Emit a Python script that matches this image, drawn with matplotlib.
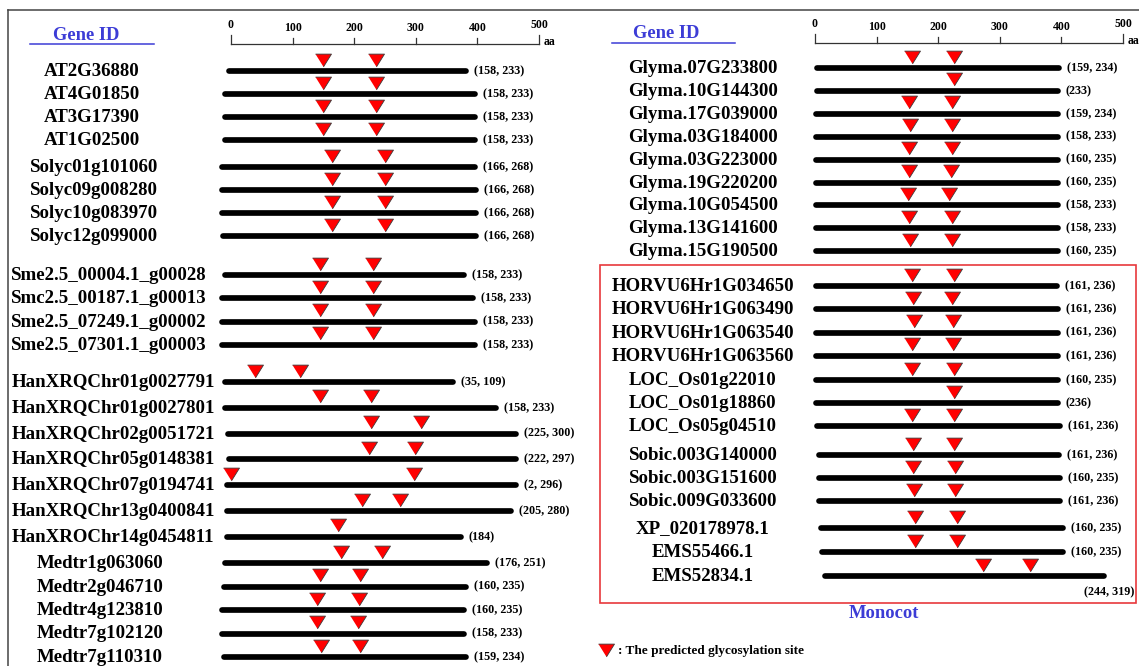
import matplotlib.pyplot as plt
from matplotlib.lines import Line2D
from matplotlib.patches import Rectangle

plt.rcParams['font.family'] = ['Liberation Serif', 'DejaVu Serif']

# ---- data: left panel (dicots) ----
left_ids = ['AT2G36880', 'AT4G01850', 'AT3G17390', 'AT1G02500',
            'Solyc01g101060', 'Solyc09g008280', 'Solyc10g083970', 'Solyc12g099000',
            'Sme2.5_00004.1_g00028', 'Smc2.5_00187.1_g00013', 'Sme2.5_07249.1_g00002', 'Sme2.5_07301.1_g00003',
            'HanXRQChr01g0027791', 'HanXRQChr01g0027801', 'HanXRQChr02g0051721', 'HanXRQChr05g0148381',
            'HanXRQChr07g0194741', 'HanXRQChr13g0400841', 'HanXROChr14g0454811',
            'Medtr1g063060', 'Medtr2g046710', 'Medtr4g123810', 'Medtr7g102120', 'Medtr7g110310']
# labelled glycosylation sites (aa)
left_sites = [[158, 233]] * 4 + [[166, 268]] * 4 + [[158, 233]] * 4 + \
             [[35, 109], [158, 233], [225, 300], [222, 297], [2, 296], [205, 280], [184]] + \
             [[176, 251], [160, 235], [160, 235], [158, 233], [159, 234]]
# where the triangles sit on the drawing (aa, read against the scale)
left_marks = [[150, 236]] * 4 + [[164, 250]] * 4 + [[145, 231]] * 4 + \
             [[39, 112], [144, 227], [227, 309], [224, 299], [0, 297], [212, 274], [173]] + \
             [[179, 245], [144, 209], [140, 208], [140, 206], [146, 210]]
left_start = [-4, -10, -10, -10, -15, -15, -15, -13, -9, -15, -15, -15,
              -9, -9, -5, -4, -6, -6, -6, -9, -11, -15, -15, -11]
left_end = [381, 396, 396, 396, 396, 398, 398, 398, 378, 393, 396, 396,
            361, 430, 463, 463, 463, 454, 373, 416, 381, 378, 378, 381]
left_groups = [4, 4, 4, 7, 5]

# ---- data: right panel (soybean + monocots) ----
right_ids = ['Glyma.07G233800', 'Glyma.10G144300', 'Glyma.17G039000', 'Glyma.03G184000',
             'Glyma.03G223000', 'Glyma.19G220200', 'Glyma.10G054500', 'Glyma.13G141600',
             'Glyma.15G190500',
             'HORVU6Hr1G034650', 'HORVU6Hr1G063490', 'HORVU6Hr1G063540', 'HORVU6Hr1G063560',
             'LOC_Os01g22010', 'LOC_Os01g18860', 'LOC_Os05g04510',
             'Sobic.003G140000', 'Sobic.003G151600', 'Sobic.009G033600',
             'XP_020178978.1', 'EMS55466.1', 'EMS52834.1']
right_sites = [[159, 234], [233], [159, 234], [158, 233], [160, 235], [160, 235], [158, 233],
               [158, 233], [160, 235],
               [161, 236], [161, 236], [161, 236], [161, 236],
               [160, 235], [236], [161, 236],
               [161, 236], [160, 235], [161, 236],
               [160, 235], [160, 235], [244, 319]]
right_marks = [[157, 226], [226], [153, 222], [154, 222], [153, 222], [153, 221], [151, 218],
               [153, 222], [154, 222],
               [157, 226], [159, 222], [161, 224], [157, 224],
               [157, 226], [226], [157, 226],
               [159, 226], [159, 227], [161, 227],
               [163, 230], [163, 231], [272, 349]]
right_start = [3, 3, 2, 2, 2, 2, 2, 2, 2, 2, 2, 1, 1, 1, 2, 3, 6, 6, 6, 10, 11, 16]
right_end = [396, 394, 394, 394, 394, 394, 394, 394, 394, 393, 394, 394, 394,
             394, 394, 398, 396, 398, 398, 402, 403, 469]
right_groups = [9, 4, 3, 3, 3]

scale_ticks = [0, 100, 200, 300, 400, 500]

# ---- layout (pixels of the 1139x666 canvas) ----
W, H = 1139, 666
PX = 0.616            # pixels per aa on the drawing
SPLIT = 580
left_zero, right_zero = 231, 815
left_y0, left_step = [71, 167, 275, 382, 563], [23, 23, 23.3, 25.8, 23.5]
right_y0, right_step = [68, 286, 380, 455, 528], [22.9, 23.3, 23, 23, 24]
left_name_px = [44, 30, 11, 12, 37]
right_name_px = 703

tri = [(-1, 0.8), (1, 0.8), (0, -0.8)]
BLUE = '#3c3cd6'


def rows(groups, y0s, steps):
    ys, gi = [], []
    for g, (n, y0, st) in enumerate(zip(groups, y0s, steps)):
        ys += [y0 + i * st for i in range(n)]
        gi += [g] * n
    return ys, gi


def draw_scale(ax, y_line):
    ax.plot([0, 500], [y_line, y_line], color='#333333', lw=0.9)
    for t in scale_ticks:
        top = y_line - 9 if t in (0, 500) else y_line - 6
        ax.plot([t, t], [y_line, top], color='#333333', lw=0.9)
        ax.text(t, top - 4, str(t), ha='center', va='bottom', fontsize=8.5, fontweight='bold')
    ax.text(500 + 5 / PX, y_line + 1, 'aa', ha='left', va='baseline', fontsize=8.5, fontweight='bold')


def draw_rows(ax, ids, sites, marks, starts, ends, ys, name_x, name_ha, xmax):
    for i, gid in enumerate(ids):
        y = ys[i]
        ax.plot([starts[i], ends[i]], [y, y], color='black', lw=4.1,
                solid_capstyle='round', zorder=2)
        ax.plot(marks[i], [y - 11.5] * len(marks[i]), ls='none', marker=tri, ms=11.5,
                mfc='#ff0000', mec='#3a3a3a', mew=0.6, zorder=3, clip_on=False)
        ax.text(name_x[i], y + 5, gid, fontsize=13.6, fontweight='bold',
                ha=name_ha, va='baseline')
        label = '(' + ', '.join(str(s) for s in sites[i]) + ')'
        lx = ends[i] + 8 / PX
        if lx + 55 / PX > xmax:
            # no room to the right: put it under the bar end
            ax.text(xmax - 4 / PX, y + 16, label, fontsize=8.7, fontweight='bold',
                    ha='right', va='center')
        else:
            ax.text(lx, y, label, fontsize=8.7, fontweight='bold', ha='left', va='center')


fig = plt.figure(figsize=(W / 100, H / 100), dpi=100)
axL = fig.add_axes([0, 0, SPLIT / W, 1])
axR = fig.add_axes([SPLIT / W, 0, (W - SPLIT) / W, 1])
axL.set_xlim((0 - left_zero) / PX, (SPLIT - left_zero) / PX)
axR.set_xlim((SPLIT - right_zero) / PX, (W - right_zero) / PX)
for ax in (axL, axR):
    ax.set_ylim(H, 0)
    ax.axis('off')

# left panel
ysL, gL = rows(left_groups, left_y0, left_step)
nameL = [(left_name_px[g] - left_zero) / PX for g in gL]
draw_scale(axL, 44)
draw_rows(axL, left_ids, left_sites, left_marks, left_start, left_end, ysL, nameL, 'left',
          (SPLIT - left_zero) / PX)
axL.text((86 - left_zero) / PX, 35, 'Gene ID', color=BLUE, fontsize=13.3, fontweight='bold',
         ha='center', va='center')
axL.plot([(30 - left_zero) / PX, (154 - left_zero) / PX], [44, 44], color=BLUE, lw=1.1)

# right panel
ysR, gR = rows(right_groups, right_y0, right_step)
nameR = [(right_name_px - right_zero) / PX] * len(right_ids)
draw_scale(axR, 43)
draw_rows(axR, right_ids, right_sites, right_marks, right_start, right_end, ysR, nameR, 'center',
          (1138 - right_zero) / PX)
axR.text((666 - right_zero) / PX, 33, 'Gene ID', color=BLUE, fontsize=13.3, fontweight='bold',
         ha='center', va='center')
axR.plot([(612 - right_zero) / PX, (735 - right_zero) / PX], [43, 43], color=BLUE, lw=1.1)

# monocot box
axR.add_patch(Rectangle(((599.5 - right_zero) / PX, 265), (1136 - 599.5) / PX, 338,
                        fill=False, edgecolor='#e8383c', lw=1.2, clip_on=False))
axR.text((884 - right_zero) / PX, 613, 'Monocot', color=BLUE, fontsize=13.3,
         fontweight='bold', ha='center', va='center')

# legend
axR.plot([(606 - right_zero) / PX], [650], ls='none', marker=tri, ms=11.5,
         mfc='#ff0000', mec='#3a3a3a', mew=0.6)
axR.text((618 - right_zero) / PX, 651, ': The predicted glycosylation site', fontsize=9.5,
         fontweight='bold', ha='left', va='center')

# outer frame (top and left edges)
fig.add_artist(Line2D([8 / W, 1], [1 - 9.5 / H, 1 - 9.5 / H], color='#444444', lw=1.1))
fig.add_artist(Line2D([8 / W, 8 / W], [0, 1 - 9.5 / H], color='#444444', lw=1.1))

fig.savefig('out.png', dpi=100)
